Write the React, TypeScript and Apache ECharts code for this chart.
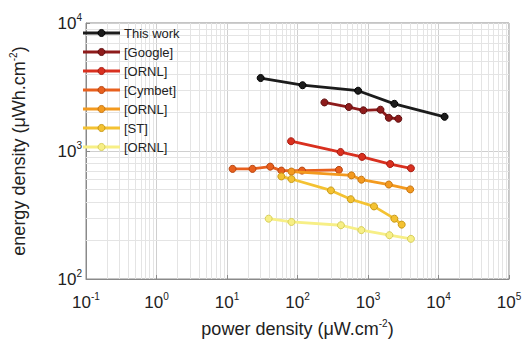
import React, { useEffect, useRef } from "react";
import * as echarts from "echarts";

const seriesNames = ["This work", "[Google]", "[ORNL]", "[Cymbet]", "[ORNL] ", "[ST]", "[ORNL]  "];
const seriesColors = ["#1c1c1c", "#8e1b1b", "#d9301f", "#e8601e", "#f39a1f", "#f4c232", "#f7ef86"];
const borderColors = ["#000000", "#5e0f0f", "#a81c12", "#b8450f", "#c87612", "#c89a18", "#d8cf5a"];

const thisWork = [[30, 3717], [118, 3266], [724, 2958], [2366, 2337], [12200, 1850]];
const google = [[241, 2396], [534, 2206], [859, 2080], [1503, 2103], [1974, 1818], [2692, 1786]];
const ornlRed = [[81, 1192], [408, 982], [824, 900], [2060, 791], [4062, 733]];
const cymbet = [[12, 725], [23, 725], [41, 755], [59, 703], [116, 703], [387, 712]];
const ornlOrange = [[82, 691], [583, 645], [805, 597], [1974, 547], [3972, 501]];
const st = [[59, 633], [82, 604], [298, 492], [570, 420], [1216, 369], [2366, 296], [3006, 266]];
const ornlYellow = [[39, 296], [82, 279], [413, 263], [805, 241], [2013, 220], [4062, 206]];
const allData = [thisWork, google, ornlRed, cymbet, ornlOrange, st, ornlYellow];

const xMin = 0.1, xMax = 100000, yMin = 100, yMax = 10000;

const minorX: number[] = [];
for (let k = -1; k <= 4; k++) for (let m = 2; m <= 9; m++) minorX.push(m * Math.pow(10, k));
const minorY: number[] = [];
for (let k = 2; k <= 3; k++) for (let m = 2; m <= 9; m++) minorY.push(m * Math.pow(10, k));

const FONT = "Liberation Sans, Arial, sans-serif";
const TXT = "#222222";

function expLabel(v: number) {
  const e = Math.round(Math.log10(v));
  return `{b|10}{s|${e}}`;
}

const richLabel = {
  b: { fontSize: 17, color: TXT, fontFamily: FONT },
  s: { fontSize: 10, color: TXT, fontFamily: FONT, padding: [0, 0, 12, 0] },
};

export default function App() {
  const ref = useRef<HTMLDivElement>(null);
  useEffect(() => {
    if (!ref.current) return;
    const chart = echarts.init(ref.current, undefined, { renderer: "svg" });
    const series: any[] = allData.map((d, i) => ({
      name: seriesNames[i],
      type: "line",
      data: d,
      symbol: "circle",
      symbolSize: 7,
      z: 10 + i,
      lineStyle: { color: seriesColors[i], width: 2.8 },
      itemStyle: { color: seriesColors[i], borderColor: borderColors[i], borderWidth: 1 },
    }));
    series.push({
      name: "grid-minor",
      type: "line",
      data: [[1, 1000]],
      symbol: "none",
      showSymbol: false,
      lineStyle: { width: 0 },
      z: 1,
      markLine: {
        silent: true,
        symbol: "none",
        label: { show: false },
        animation: false,
        lineStyle: { color: "#e4e4e4", width: 1, type: "solid", opacity: 1 },
        data: [...minorX.map((v) => ({ xAxis: v })), ...minorY.map((v) => ({ yAxis: v }))],
      },
    });
    const legendTop = 33;
    const legendStep = 19;
    const legendGraphics: any[] = [];
    seriesNames.forEach((n, i) => {
      const y = legendTop + legendStep * i;
      legendGraphics.push(
        { type: "line", z: 100, shape: { x1: 83, y1: y, x2: 120, y2: y }, style: { stroke: seriesColors[i], lineWidth: 2.8 } },
        { type: "circle", z: 101, shape: { cx: 101.5, cy: y, r: 3.5 }, style: { fill: seriesColors[i], stroke: borderColors[i], lineWidth: 1 } },
        { type: "text", z: 101, x: 124, y, style: { text: n.trim(), font: `13px ${FONT}`, fill: TXT, verticalAlign: "middle", align: "left" } }
      );
    });
    chart.setOption({
      animation: false,
      backgroundColor: "#ffffff",
      textStyle: { fontFamily: FONT },
      grid: { left: 82, top: 23, right: 16, bottom: 58, show: true, borderColor: "#8a8a8a", borderWidth: 1 },
      graphic: legendGraphics,
      xAxis: {
        type: "log",
        logBase: 10,
        min: xMin,
        max: xMax,
        name: "power density (μW.cm{s|-2})",
        nameLocation: "middle",
        nameGap: 39,
        nameTextStyle: {
          fontSize: 18,
          color: TXT,
          fontFamily: FONT,
          rich: { s: { fontSize: 10, color: TXT, padding: [0, 0, 12, 0] } },
        },
        axisLine: { show: true, lineStyle: { color: "#8a8a8a" } },
        axisTick: { inside: true, length: 4, lineStyle: { color: "#8a8a8a" } },
        axisLabel: { formatter: expLabel, rich: richLabel, margin: 12 },
        splitLine: { show: true, lineStyle: { color: "#cfcfcf" } },
      },
      yAxis: {
        type: "log",
        logBase: 10,
        min: yMin,
        max: yMax,
        name: "energy density (μWh.cm{s|-2})",
        nameLocation: "middle",
        nameGap: 56,
        nameTextStyle: {
          fontSize: 18,
          color: TXT,
          fontFamily: FONT,
          rich: { s: { fontSize: 10, color: TXT, padding: [0, 0, 12, 0] } },
        },
        axisLine: { show: true, lineStyle: { color: "#8a8a8a" } },
        axisTick: { inside: true, length: 4, lineStyle: { color: "#8a8a8a" } },
        axisLabel: { formatter: expLabel, rich: richLabel, margin: 4 },
        splitLine: { show: true, lineStyle: { color: "#cfcfcf" } },
      },
      series,
    });
    return () => chart.dispose();
  }, []);
  return <div ref={ref} style={{ width: 525, height: 343, position: "absolute", left: 0, top: 0 }} />;
}
